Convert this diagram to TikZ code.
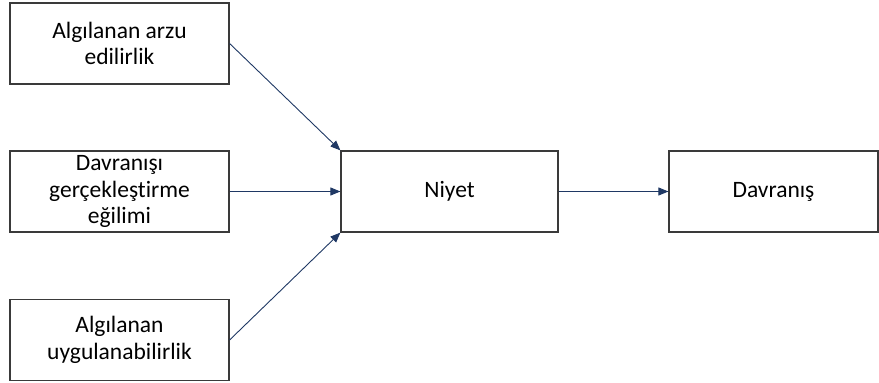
\documentclass[tikz,border=0pt]{standalone}
\usepackage{fontspec}
\setmainfont{Carlito}[Ligatures=NoCommon]
\usetikzlibrary{arrows.meta}
\definecolor{boxline}{HTML}{3A3A3A}
\definecolor{arrowblue}{HTML}{1F3864}
\begin{document}
\begin{tikzpicture}[x=1pt,y=-1pt,
  box/.style={draw=boxline, line width=1.2pt, rectangle, inner sep=0pt,
    minimum height=81pt, align=center, font=\fontsize{23.5}{26.5}\selectfont},
  conn/.style={draw=arrowblue, line width=0.9pt, -{Triangle[length=10pt,width=8pt]}}]
\useasboundingbox (0,0) rectangle (879,383);
\node[box, minimum width=219pt] (a) at (119.5,43.5) {Algılanan arzu\\edilirlik};
\node[box, minimum width=219pt] (b) at (119.5,191.5) {Davranışı\\gerçekleştirme\\eğilimi};
\node[box, minimum width=219pt] (c) at (119.5,340) {Algılanan\\uygulanabilirlik};
\node[box, minimum width=217pt] (n) at (449.5,191.5) {Niyet};
\node[box, minimum width=209pt] (d) at (773.5,191.5) {Davranış};
\draw[conn] (a.east) -- (n.north west);
\draw[conn] (b.east) -- (n.west);
\draw[conn] (c.east) -- (n.south west);
\draw[conn] (n.east) -- (d.west);
\end{tikzpicture}
\end{document}
